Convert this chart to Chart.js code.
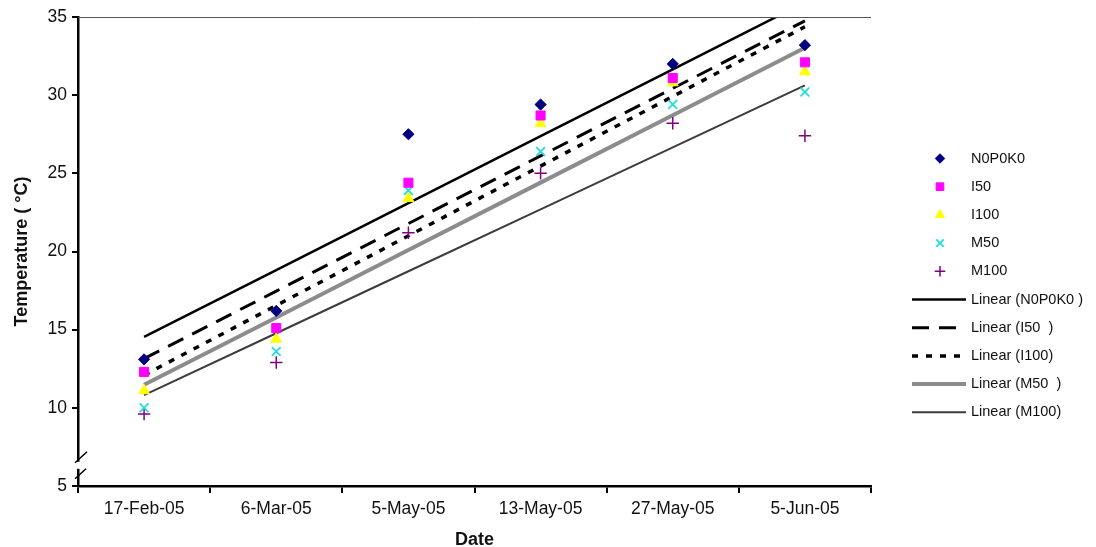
<!DOCTYPE html>
<html>
<head>
<meta charset="utf-8">
<title>Temperature</title>
<script src="https://cdn.jsdelivr.net/npm/chart.js@4/dist/chart.umd.min.js"></script>
<style>
  html, body { margin: 0; padding: 0; background: #fff; }
  #wrap { width: 1096px; height: 547px; position: relative; }
</style>
</head>
<body>
<div id="wrap"><canvas id="tempChart"></canvas></div>
<script>
// Données
const categories = ['17-Feb-05', '6-Mar-05', '5-May-05', '13-May-05', '27-May-05', '5-Jun-05'];
const n0p0k0 = [13.1, 16.2, 27.5, 29.4, 32.0, 33.2];
const i50 = [12.3, 15.1, 24.4, 28.7, 31.1, 32.1];
const i100 = [11.1, 14.4, 23.4, 28.2, 30.8, 31.5];
const m50 = [10.0, 13.6, 23.9, 26.4, 29.4, 30.2];
const m100 = [9.6, 12.9, 21.2, 25.0, 28.2, 27.4];
const yTicks = [5, 10, 15, 20, 25, 30, 35];

const FONT = 'Liberation Sans, Arial, sans-serif';

// Régression linéaire (courbe de tendance type Excel, x = 1..n)
function linearTrend(values) {
    const n = values.length;
    const xs = values.map((v, i) => i + 1);
    const mx = xs.reduce((a, b) => a + b, 0) / n;
    const my = values.reduce((a, b) => a + b, 0) / n;
    let sxy = 0, sxx = 0;
    xs.forEach((x, i) => {
        sxy += (x - mx) * (values[i] - my);
        sxx += (x - mx) * (x - mx);
    });
    const slope = sxy / sxx;
    return xs.map(x => my + slope * (x - mx));
}

function markerSet(label, data, style, color, radius, borderWidth) {
    return {
        label: label,
        data: data,
        showLine: false,
        pointStyle: style,
        pointRadius: radius,
        pointHoverRadius: radius,
        pointBackgroundColor: color,
        pointBorderColor: color,
        pointBorderWidth: borderWidth,
        borderColor: color,
        backgroundColor: color,
        order: 0
    };
}

function trendSet(label, data, color, width, dash) {
    return {
        label: label,
        data: linearTrend(data),
        borderColor: color,
        backgroundColor: color,
        borderWidth: width,
        borderDash: dash,
        borderCapStyle: 'butt',
        pointRadius: 0,
        pointHoverRadius: 0,
        tension: 0,
        fill: false,
        clip: 0,
        order: 1
    };
}

const datasets = [
    markerSet('N0P0K0', n0p0k0, 'rectRot', '#000080', 5.6, 1),
    markerSet('I50', i50, 'rect', '#FF00FF', 6.4, 1),
    markerSet('I100', i100, 'triangle', '#FFFF00', 6.2, 1),
    markerSet('M50', m50, 'crossRot', '#22DDDD', 6.2, 1.8),
    markerSet('M100', m100, 'cross', '#800080', 6.2, 1.5),
    trendSet('Linear (N0P0K0 )', n0p0k0, '#000000', 2.5, []),
    trendSet('Linear (I50  )', i50, '#000000', 3, [17, 10]),
    trendSet('Linear (I100)', i100, '#000000', 3.5, [6, 8]),
    trendSet('Linear (M50  )', m50, '#8c8c8c', 4, []),
    trendSet('Linear (M100)', m100, '#3c3c3c', 2, [])
];

// Légende dessinée à droite
const legendPlugin = {
    id: 'rightLegend',
    afterDraw(chart) {
        const ctx = chart.ctx;
        const startY = 158.5;
        const stepY = 28.2;
        ctx.save();
        ctx.font = '14.5px ' + FONT;
        ctx.textBaseline = 'middle';
        ctx.textAlign = 'left';
        chart.data.datasets.forEach((ds, i) => {
            const y = startY + i * stepY;
            if (ds.showLine === false) {
                ctx.save();
                ctx.fillStyle = ds.pointBackgroundColor;
                ctx.strokeStyle = ds.pointBorderColor;
                ctx.lineWidth = ds.pointBorderWidth;
                Chart.helpers.drawPoint(ctx, {
                    pointStyle: ds.pointStyle,
                    radius: ds.pointRadius * 0.85,
                    rotation: 0,
                    borderWidth: ds.pointBorderWidth
                }, 940, y);
                ctx.restore();
            } else {
                ctx.save();
                ctx.strokeStyle = ds.borderColor;
                ctx.lineWidth = ds.borderWidth;
                ctx.setLineDash(ds.borderDash || []);
                ctx.beginPath();
                ctx.moveTo(912, y);
                ctx.lineTo(966, y);
                ctx.stroke();
                ctx.restore();
            }
            ctx.fillStyle = '#111';
            ctx.fillText(ds.label, 971, y);
        });
        ctx.restore();
    }
};

// Bordure haute et coupure de l'axe Y
const framePlugin = {
    id: 'frameBreak',
    afterDraw(chart) {
        const ctx = chart.ctx;
        const area = chart.chartArea;
        const yScale = chart.scales.y;
        ctx.save();
        ctx.strokeStyle = '#555';
        ctx.lineWidth = 1;
        ctx.beginPath();
        ctx.moveTo(area.left, area.top + 0.5);
        ctx.lineTo(area.right, area.top + 0.5);
        ctx.stroke();

        const yTop = yScale.getPixelForValue(6.55);
        const yBot = yScale.getPixelForValue(6.1);
        const x = area.left;
        ctx.fillStyle = '#fff';
        ctx.fillRect(x - 3, yTop, 6, yBot - yTop);
        ctx.strokeStyle = '#000';
        ctx.lineWidth = 1.5;
        ctx.beginPath();
        ctx.moveTo(x - 3, yTop + 1);
        ctx.lineTo(x + 9, yTop - 10);
        ctx.moveTo(x - 3, yBot + 10);
        ctx.lineTo(x + 8, yBot);
        ctx.stroke();
        ctx.restore();
    }
};

const config = {
    type: 'line',
    data: {
        labels: categories,
        datasets: datasets
    },
    options: {
        responsive: true,
        maintainAspectRatio: false,
        animation: false,
        events: [],
        layout: {
            padding: { left: 0, top: 17, right: 225, bottom: 0 }
        },
        plugins: {
            legend: { display: false },
            tooltip: { enabled: false }
        },
        scales: {
            x: {
                type: 'category',
                offset: true,
                afterFit: function(scale) { scale.height = 61; },
                grid: {
                    display: true,
                    offset: true,
                    drawOnChartArea: false,
                    drawTicks: true,
                    tickLength: 7,
                    color: '#000',
                    lineWidth: 2
                },
                border: { display: true, color: '#000', width: 2.5 },
                ticks: {
                    color: '#111',
                    font: { family: FONT, size: 17.5 },
                    padding: 6,
                    maxRotation: 0,
                    autoSkip: false
                },
                title: {
                    display: true,
                    text: 'Date',
                    color: '#111',
                    font: { family: FONT, size: 18, weight: 'bold' },
                    padding: { top: 0, bottom: -4 }
                }
            },
            y: {
                min: 5,
                max: 35,
                afterFit: function(scale) { scale.width = 78; },
                afterBuildTicks: function(scale) {
                    scale.ticks = yTicks.map(v => ({ value: v }));
                },
                grid: {
                    display: true,
                    drawOnChartArea: false,
                    drawTicks: true,
                    tickLength: 6,
                    color: '#000',
                    lineWidth: 2
                },
                border: { display: true, color: '#000', width: 2.5 },
                ticks: {
                    color: '#111',
                    font: { family: FONT, size: 17.5 },
                    padding: 5
                },
                title: {
                    display: true,
                    text: 'Temperature ( °C)',
                    color: '#111',
                    font: { family: FONT, size: 18, weight: 'bold' },
                    padding: { top: 11, bottom: 0 }
                }
            }
        }
    },
    plugins: [legendPlugin, framePlugin]
};

new Chart(document.getElementById('tempChart'), config);
</script>
</body>
</html>
